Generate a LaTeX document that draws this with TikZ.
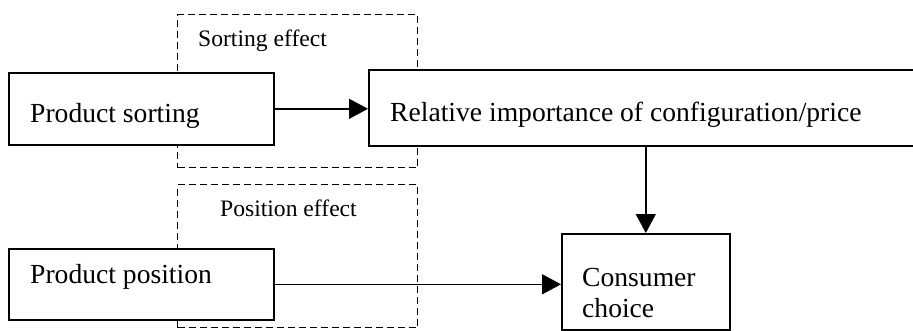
\documentclass[tikz,border=0pt]{standalone}
\usepackage{fontspec}
\setmainfont{Liberation Serif}
\usetikzlibrary{arrows.meta}
\begin{document}
\begin{tikzpicture}[x=1pt,y=-1pt,
  box/.style={draw, fill=white, line width=1.6pt, inner sep=0pt, anchor=north west},
  dbox/.style={draw, dash pattern=on 7pt off 4pt, line width=1.4pt, inner sep=0pt, anchor=north west},
  txt/.style={inner sep=0pt, anchor=base west, font=\fontsize{27.6}{31}\selectfont},
  stxt/.style={inner sep=0pt, anchor=base west, font=\fontsize{23.6}{28}\selectfont},
  conn/.style={line width=1.5pt, -{Triangle[length=19pt,width=20pt]}}]
\clip (0,0) rectangle (913,330);
% dashed effect boxes
\node[dbox, minimum width=240pt, minimum height=153pt] (se) at (177,14) {};
\node[dbox, minimum width=240pt, minimum height=143pt] (pe) at (177,184) {};
\node[stxt] (set) at (198,46) {Sorting effect};
\node[stxt] (pet) at (220,216.5) {Position effect};
% solid boxes
\node[box, minimum width=265pt, minimum height=72pt] (ps) at (8,72) {};
\node[box, minimum width=560pt, minimum height=76pt] (rel) at (368,69) {};
\node[box, minimum width=265pt, minimum height=71pt] (pp) at (8,248) {};
\node[box, minimum width=168pt, minimum height=96pt] (cc) at (561,233) {};
% texts
\node[txt] (pst) at (30,122) {Product sorting};
\node[txt] (relt) at (390,121) {Relative importance of configuration/price};
\node[txt] (ppt) at (30,283) {Product position};
\node[txt, align=left, anchor=north west] (cct) at (582,268) {Consumer\\choice};
% connectors
\draw[conn] (ps.east) -- (ps.east -| rel.west);
\draw[conn] (cc.north |- rel.south) -- (cc.north);
\draw[conn] (pp.east) -- (pp.east -| cc.west);
\end{tikzpicture}
\end{document}
